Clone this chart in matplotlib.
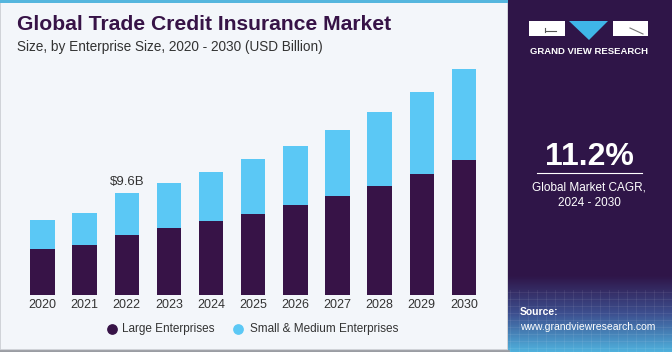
import matplotlib.pyplot as plt
from matplotlib.patches import Rectangle, Polygon
from matplotlib.colors import LinearSegmentedColormap
import numpy as np

# data (USD billion)
years = ["2020", "2021", "2022", "2023", "2024", "2025", "2026", "2027", "2028", "2029", "2030"]
large = [4.31, 4.72, 5.69, 6.30, 7.01, 7.65, 8.50, 9.35, 10.32, 11.45, 12.74]
sme = [2.77, 3.05, 3.91, 4.24, 4.63, 5.16, 5.59, 6.23, 6.98, 7.68, 8.56]
label_year = "2022"
label_text = "$9.6B"

plt.rcParams['font.family'] = ['Liberation Sans', 'DejaVu Sans']

dark = "#371347"
cyan = "#5bc8f5"
panel = "#2f1548"
bg = "#f3f6fa"

W, H = 672, 352
fig = plt.figure(figsize=(W / 100, H / 100), dpi=100)
fig.patch.set_facecolor("white")

# background panels drawn in figure pixel coords
bgax = fig.add_axes([0, 0, 1, 1])
bgax.set_xlim(0, W)
bgax.set_ylim(H, 0)
bgax.axis("off")
bgax.add_patch(Rectangle((0, 0), 508, 350, facecolor=bg, edgecolor="#c9ccd2", lw=1.2))
bgax.add_patch(Rectangle((0, 0), 508, 3, facecolor="#55b6de", edgecolor="none"))
bgax.add_patch(Rectangle((508, 0), W - 508, H, facecolor=panel, edgecolor="none"))

# gradient grid at bottom of right panel
grad = np.linspace(0, 1, 60)[:, None]
cm = LinearSegmentedColormap.from_list("g", [panel, "#3d4f8f", "#4fb0dc"])
bgax.imshow(grad, extent=(508, W, 352, 275), cmap=cm, aspect="auto",
            origin="upper", zorder=1)
for xx in np.arange(510, W, 9):
    bgax.plot([xx, xx], [290, 352], color="white", alpha=0.08, lw=0.6, zorder=2)
for yy in np.arange(292, 352, 7):
    bgax.plot([508, W], [yy, yy], color="white", alpha=0.08, lw=0.6, zorder=2)
bgax.plot([0, 508], [350.5, 350.5], color="#9a9da3", lw=2, zorder=3)

# logo
bgax.add_patch(Rectangle((529, 21), 36, 15, facecolor="white", edgecolor="none", zorder=3))
bgax.add_patch(Rectangle((613, 21), 35, 15, facecolor="white", edgecolor="none", zorder=3))
bgax.add_patch(Polygon([(569, 21), (608, 21), (589, 40)], closed=True,
                       facecolor="#3fb6e8", edgecolor="none", zorder=3))
bgax.plot([546, 556], [31, 31], color="#555", lw=0.8, zorder=4)
bgax.plot([545, 545], [28, 32], color="#555", lw=0.8, zorder=4)
bgax.plot([630, 643], [28, 34], color="#777", lw=0.8, zorder=4)
bgax.text(589, 52, "GRAND VIEW RESEARCH", color="white", fontsize=6.8,
          fontweight="bold", ha="center", va="center", zorder=4)

# CAGR block
bgax.text(589, 157, "11.2%", color="white", fontsize=23, fontweight="bold",
          ha="center", va="center", zorder=4)
bgax.plot([537, 642], [173, 173], color="white", lw=0.8, zorder=4)
bgax.text(589, 188, "Global Market CAGR,", color="white", fontsize=8.5,
          ha="center", va="center", zorder=4)
bgax.text(589, 203, "2024 - 2030", color="white", fontsize=8.5,
          ha="center", va="center", zorder=4)
bgax.text(520, 312, "Source:", color="white", fontsize=7.5, fontweight="bold",
          ha="left", va="center", zorder=4)
bgax.text(520, 327, "www.grandviewresearch.com", color="white", fontsize=7.5,
          ha="left", va="center", zorder=4)

# titles
bgax.text(17, 25, "Global Trade Credit Insurance Market", color=dark, fontsize=15.2,
          fontweight="bold", ha="left", va="center", zorder=4)
bgax.text(17, 47, "Size, by Enterprise Size, 2020 - 2030 (USD Billion)", color="#333333",
          fontsize=9.8, ha="left", va="center", zorder=4)

# legend
bgax.scatter([112], [329], s=45, color=dark, zorder=4)
bgax.text(122, 329, "Large Enterprises", color="#333333", fontsize=8.5,
          ha="left", va="center", zorder=4)
bgax.scatter([238], [329], s=45, color=cyan, zorder=4)
bgax.text(250, 329, "Small & Medium Enterprises", color="#333333", fontsize=8.5,
          ha="left", va="center", zorder=4)

# bar chart
ax = fig.add_axes([17.2 / W, (H - 295) / H, 472 / W, 249 / H])
ax.set_facecolor("none")
x = np.arange(len(years))
ax.bar(x, large, width=0.58, color=dark)
ax.bar(x, sme, width=0.58, bottom=large, color=cyan)
ax.set_xlim(-0.6, 10.6)
ax.set_ylim(0, 23.5)
ax.set_xticks(x)
ax.set_xticklabels(years, fontsize=9, color="#333333")
ax.tick_params(axis="x", length=0, pad=3)
ax.set_yticks([])
for s in ax.spines.values():
    s.set_visible(False)

i = years.index(label_year)
ax.text(x[i], large[i] + sme[i] + 0.5, label_text, ha="center", va="bottom",
        fontsize=9.5, color="#333333")

fig.savefig("out.png", dpi=100)
